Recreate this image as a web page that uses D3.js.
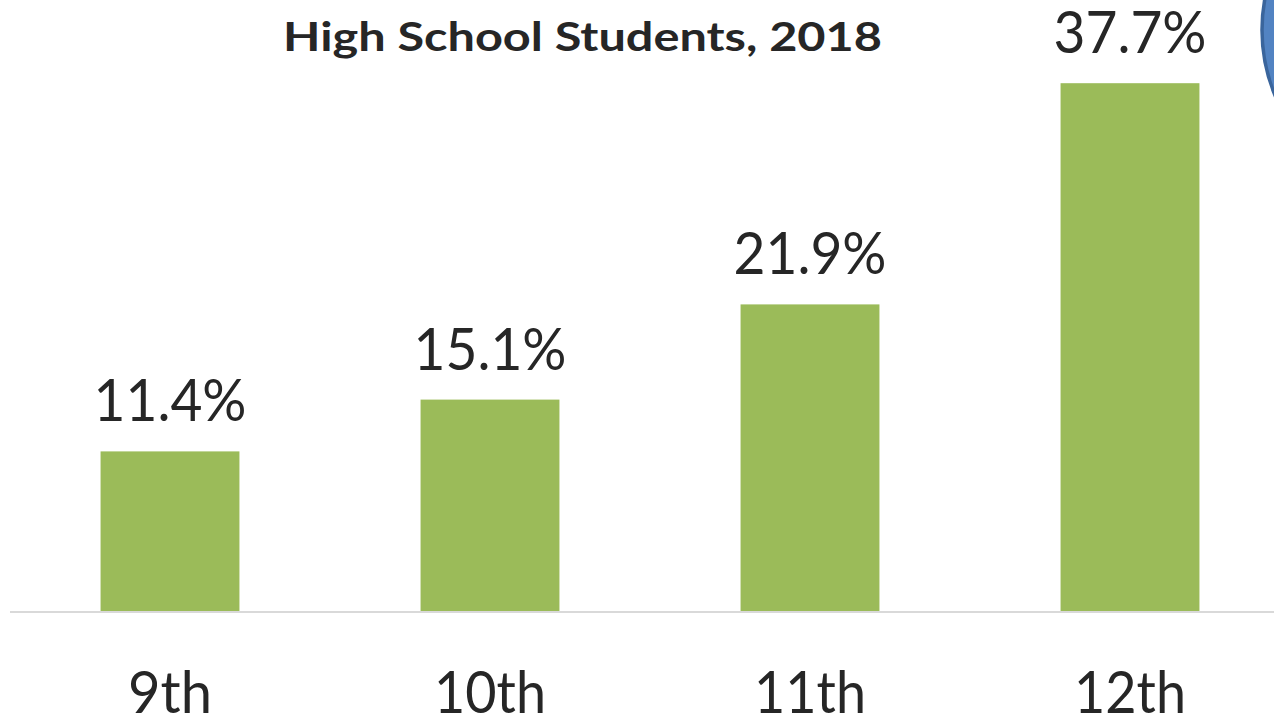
<!DOCTYPE html>
<html>
<head>
<meta charset="utf-8">
<script src="https://cdn.jsdelivr.net/npm/d3@7"></script>
<style>
  html, body { margin: 0; padding: 0; background: #ffffff; overflow: hidden; }
  svg { display: block; }
  text { font-family: Lato, "Open Sans", sans-serif; fill: #262626; }
</style>
</head>
<body>
<svg id="chart" width="1274" height="718"></svg>
<script>
// Grade levels and share of students (%)
const grades = ["9th", "10th", "11th", "12th"];
const shares = [11.4, 15.1, 21.9, 37.7];
const titleLines = ["High School Students, 2018"];

const W = 1274, H = 718;
const svg = d3.select("#chart");

const baseY = 611;

const x = d3.scaleBand()
  .domain(grades)
  .range([10, 1290])
  .paddingInner(0.566)
  .paddingOuter(0.283);

const y = d3.scaleLinear()
  .domain([0, 40])
  .range([baseY, baseY - 560]);

// decorative badge at the right edge
svg.append("circle")
  .attr("cx", 1433)
  .attr("cy", 30)
  .attr("r", 171)
  .attr("fill", "#5283c2")
  .attr("stroke", "#3a659c")
  .attr("stroke-width", 3.5);

// title
svg.append("text")
  .attr("x", 582.5)
  .attr("y", 51)
  .attr("text-anchor", "middle")
  .attr("font-size", 41)
  .attr("font-weight", 700)
  .attr("textLength", 599)
  .attr("lengthAdjust", "spacingAndGlyphs")
  .text(titleLines[0]);

const data = grades.map((g, i) => ({ grade: g, value: shares[i] }));

// bars
svg.append("g").selectAll("rect")
  .data(data)
  .join("rect")
  .attr("x", d => x(d.grade))
  .attr("width", x.bandwidth())
  .attr("y", d => y(d.value))
  .attr("height", d => y(0) - y(d.value))
  .attr("fill", "#9bbb59");

// baseline
svg.append("line")
  .attr("x1", 10).attr("x2", W)
  .attr("y1", baseY + 1).attr("y2", baseY + 1)
  .attr("stroke", "#d9d9d9")
  .attr("stroke-width", 2);

// value labels
svg.append("g").selectAll("text")
  .data(data)
  .join("text")
  .attr("x", d => x(d.grade) + x.bandwidth() / 2)
  .attr("y", d => y(d.value) - 30)
  .attr("text-anchor", "middle")
  .attr("font-size", 58)
  .attr("textLength", 153)
  .attr("lengthAdjust", "spacingAndGlyphs")
  .text(d => d.value.toFixed(1) + "%");

// category axis (labels only)
const axis = d3.axisBottom(x).tickSize(0).tickPadding(0);
const gx = svg.append("g")
  .attr("transform", `translate(0, ${713})`)
  .call(axis);
gx.select(".domain").remove();
gx.selectAll("text")
  .attr("dy", 0)
  .attr("y", 0)
  .attr("font-size", 58)
  .attr("fill", "#262626")
  .style("font-family", "Lato, 'Open Sans', sans-serif")
  .attr("textLength", d => d.length === 3 ? 84 : 112)
  .attr("lengthAdjust", "spacingAndGlyphs");
</script>
</body>
</html>
